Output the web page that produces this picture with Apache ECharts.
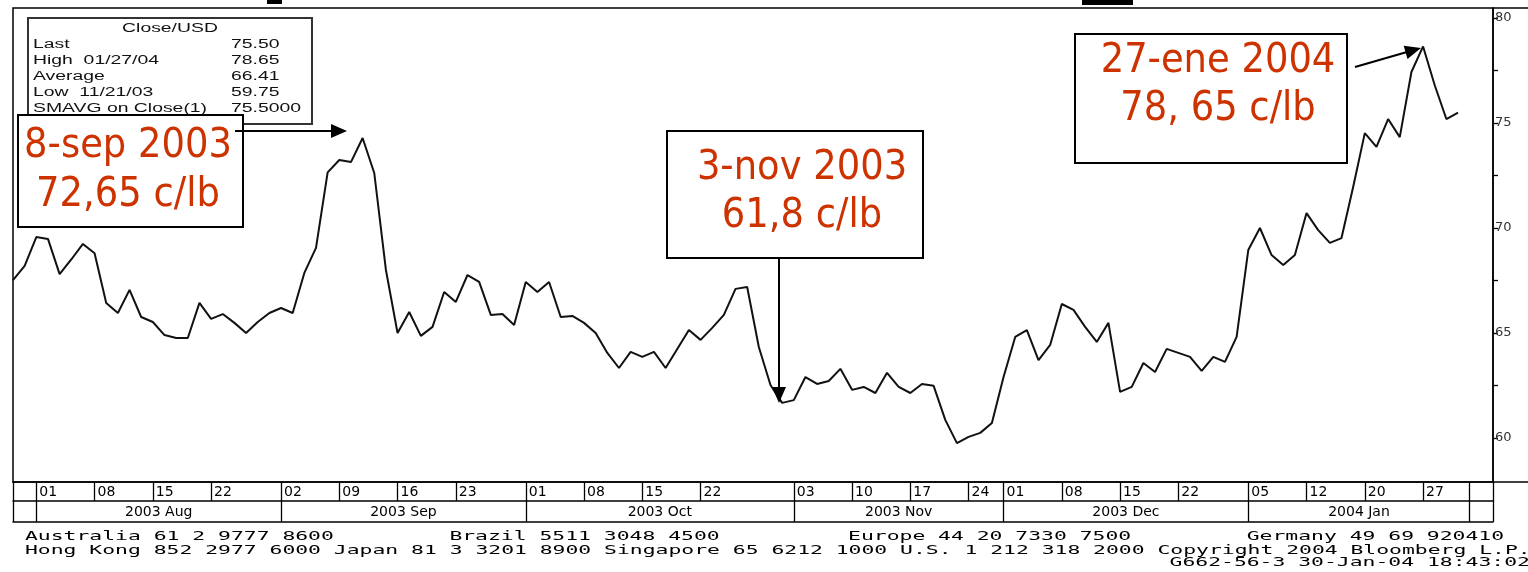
<!DOCTYPE html>
<html><head><meta charset="utf-8">
<script src="https://cdn.jsdelivr.net/npm/echarts@6/dist/echarts.min.js"></script>
<style>html,body{margin:0;padding:0;background:#fff}#c{width:1528px;height:572px}</style>
</head><body><div id="c"></div>
<script>
// Trading days (categories)
const dates = [
 'Jul 30','Jul 31',
 'Aug 01','Aug 04','Aug 05','Aug 06','Aug 07','Aug 08','Aug 11','Aug 12','Aug 13','Aug 14','Aug 15',
 'Aug 18','Aug 19','Aug 20','Aug 21','Aug 22','Aug 25','Aug 26','Aug 27','Aug 28','Aug 29',
 'Sep 02','Sep 03','Sep 04','Sep 05','Sep 08','Sep 09','Sep 10','Sep 11','Sep 12','Sep 15','Sep 16',
 'Sep 17','Sep 18','Sep 19','Sep 22','Sep 23','Sep 24','Sep 25','Sep 26','Sep 29','Sep 30',
 'Oct 01','Oct 02','Oct 03','Oct 06','Oct 07','Oct 08','Oct 09','Oct 10','Oct 13','Oct 14','Oct 15',
 'Oct 16','Oct 17','Oct 20','Oct 21','Oct 22','Oct 23','Oct 24','Oct 27','Oct 28','Oct 29','Oct 30','Oct 31',
 'Nov 03','Nov 04','Nov 05','Nov 06','Nov 07','Nov 10','Nov 11','Nov 12','Nov 13','Nov 14','Nov 17',
 'Nov 18','Nov 19','Nov 20','Nov 21','Nov 24','Nov 25','Nov 26',
 'Dec 01','Dec 02','Dec 03','Dec 04','Dec 05','Dec 08','Dec 09','Dec 10','Dec 11','Dec 12','Dec 15',
 'Dec 16','Dec 17','Dec 18','Dec 19','Dec 22','Dec 23','Dec 29','Dec 30','Dec 31',
 'Jan 02','Jan 05','Jan 06','Jan 07','Jan 08','Jan 09','Jan 12','Jan 13','Jan 14','Jan 15','Jan 16',
 'Jan 20','Jan 21','Jan 22','Jan 23','Jan 26','Jan 27','Jan 28','Jan 29','Jan 30',
 'Feb 02','Feb 03','Feb 04'
];
// Close values (US cents/lb)
const closes = [
 67.52,68.2,
 69.57,69.48,67.8,68.5,69.24,68.8,66.43,65.95,67.05,65.76,65.52,
 64.9,64.76,64.76,66.43,65.67,65.9,65.48,65.0,65.52,65.95,
 66.19,65.95,67.86,69.05,72.65,73.24,73.14,74.29,72.62,68.0,65.0,
 66.0,64.86,65.29,66.95,66.48,67.76,67.43,65.86,65.9,65.38,
 67.43,66.95,67.43,65.76,65.81,65.48,65.0,64.05,63.33,64.1,63.86,
 64.1,63.33,64.24,65.14,64.67,65.24,65.86,67.1,67.19,64.33,62.52,61.67,
 61.8,62.9,62.57,62.71,63.29,62.29,62.43,62.14,63.1,62.43,62.14,
 62.57,62.48,60.86,59.75,60.05,60.24,60.71,
 62.9,64.81,65.14,63.71,64.43,66.38,66.1,65.29,64.57,65.48,62.19,
 62.43,63.57,63.14,64.24,64.05,63.86,63.19,63.86,63.62,
 64.81,68.95,70.0,68.71,68.24,68.71,70.71,69.9,69.29,69.52,71.95,
 74.52,73.86,75.19,74.33,77.43,78.65,76.8,75.19,75.5
];
const weekStarts = ['Aug 01','Aug 08','Aug 15','Aug 22','Sep 02','Sep 09','Sep 16','Sep 23',
 'Oct 01','Oct 08','Oct 15','Oct 22','Nov 03','Nov 10','Nov 17','Nov 24',
 'Dec 01','Dec 08','Dec 15','Dec 22','Jan 05','Jan 12','Jan 20','Jan 27'];
const monthStarts = ['Aug 01','Sep 02','Oct 01','Nov 03','Dec 01','Jan 05','Feb 02'];
const monthLabels = ['2003 Aug','2003 Sep','2003 Oct','2003 Nov','2003 Dec','2004 Jan'];
const yTickValues = [60,62.5,65,67.5,70,72.5,75,77.5,80];
const yLabelValues = [60,65,70,75,80];
const statsTitle = 'Close/USD';
const statsNames = ['Last','High  01/27/04','Average','Low  11/21/03','SMAVG on Close(1)'];
const statsValues = ['75.50','78.65','66.41','59.75','75.5000'];
const notes = [
 ['8-sep 2003','72,65 c/lb'],
 ['3-nov 2003','61,8 c/lb'],
 ['27-ene 2004','78, 65 c/lb']
];
const footer1 = ['Australia 61 2 9777 8600','Brazil 5511 3048 4500','Europe 44 20 7330 7500','Germany 49 69 920410'];
const footer2 = 'Hong Kong 852 2977 6000 Japan 81 3 3201 8900 Singapore 65 6212 1000 U.S. 1 212 318 2000 Copyright 2004 Bloomberg L.P.';
const footer3 = 'G662-56-3 30-Jan-04 18:43:02';

const idx = d => dates.indexOf(d);
const lastIdx = dates.length - 1;
const weekTickSet = new Set([0, lastIdx, idx('Feb 02')].concat(weekStarts.map(idx)));
const weekLabelSet = new Set(weekStarts.map(idx));
const monthTickSet = new Set([0, lastIdx].concat(monthStarts.map(idx)));
const monthLabelMap = {};
for (let m = 0; m < monthLabels.length; m++) {
  const a = idx(monthStarts[m]), b = idx(monthStarts[m + 1]);
  const mid = Math.floor((a + b) / 2);
  monthLabelMap[mid] = { text: monthLabels[m], half: (a + b) % 2 === 1 };
}

const chart = echarts.init(document.getElementById('c'));
const RED = '#cc3300';
const MONO = '"DejaVu Sans Mono", monospace';
const BB = '"Liberation Sans", Arial, sans-serif';
const DV = '"DejaVu Sans", sans-serif';

function boxText(lines, cx, y1, y2) {
  return lines.map((t, i) => ({
    type: 'text', x: cx, y: i === 0 ? y1 : y2, scaleX: 0.9, z: 20,
    style: { text: t, fontFamily: DV, fontSize: 41, fill: RED, align: 'center', verticalAlign: 'middle' }
  }));
}

const graphics = [
  { type: 'line', z: 5, shape: { x1: 1493, y1: 8, x2: 1528, y2: 8 }, style: { stroke: '#000', lineWidth: 1.5 } },
  { type: 'line', z: 5, shape: { x1: 1493, y1: 482, x2: 1528, y2: 482 }, style: { stroke: '#000', lineWidth: 1.5 } },
  { type: 'rect', shape: { x: 267, y: 0, width: 15, height: 4 }, style: { fill: '#000' } },
  { type: 'rect', shape: { x: 1082, y: 0, width: 51, height: 5 }, style: { fill: '#000' } },
  { type: 'rect', z: 10, shape: { x: 28, y: 18, width: 284, height: 106 }, style: { fill: '#fff', stroke: '#333', lineWidth: 2 } },
  { type: 'text', z: 11, x: 170, y: 29, scaleX: 1.55, style: { text: statsTitle, fontFamily: BB, fontSize: 12.5, fill: '#111', align: 'center', verticalAlign: 'middle' } }
];
statsNames.forEach((n, i) => {
  graphics.push({ type: 'text', z: 11, x: 33, y: 45 + i * 15.8, scaleX: 1.55, style: { text: n, fontFamily: BB, fontSize: 12.5, fill: '#111', align: 'left', verticalAlign: 'middle' } });
  graphics.push({ type: 'text', z: 11, x: 231, y: 45 + i * 15.8, scaleX: 1.55, style: { text: statsValues[i], fontFamily: BB, fontSize: 12.5, fill: '#111', align: 'left', verticalAlign: 'middle' } });
});
graphics.push(
  { type: 'rect', z: 15, shape: { x: 18, y: 115, width: 225, height: 112 }, style: { fill: '#fff', stroke: '#000', lineWidth: 2 } },
  { type: 'rect', z: 15, shape: { x: 667, y: 131, width: 256, height: 127 }, style: { fill: '#fff', stroke: '#000', lineWidth: 2 } },
  { type: 'rect', z: 15, shape: { x: 1075, y: 34, width: 272, height: 129 }, style: { fill: '#fff', stroke: '#000', lineWidth: 2 } }
);
graphics.push(...boxText(notes[0], 128, 146, 195));
graphics.push(...boxText(notes[1], 802, 168, 216));
graphics.push(...boxText(notes[2], 1218, 61, 109));
graphics.push(
  { type: 'line', z: 16, shape: { x1: 235, y1: 131, x2: 333, y2: 131 }, style: { stroke: '#000', lineWidth: 2 } },
  { type: 'polygon', z: 16, shape: { points: [[347, 131], [331, 124], [331, 138]] }, style: { fill: '#000' } },
  { type: 'line', z: 16, shape: { x1: 779, y1: 258, x2: 779, y2: 389 }, style: { stroke: '#000', lineWidth: 2 } },
  { type: 'polygon', z: 16, shape: { points: [[779, 403], [772, 387], [786, 387]] }, style: { fill: '#000' } },
  { type: 'line', z: 16, shape: { x1: 1355, y1: 67, x2: 1407, y2: 52 }, style: { stroke: '#000', lineWidth: 2 } },
  { type: 'polygon', z: 16, shape: { points: [[1421, 48], [1407.5, 59.1], [1403.7, 45.7]] }, style: { fill: '#000' } }
);
const cols = [0, 33, 64, 95];
const pitch = 12.86;
footer1.forEach((t, i) => graphics.push({ type: 'text', x: 25 + cols[i] * pitch, y: 537, scaleX: 1.71, style: { text: t, fontFamily: MONO, fontSize: 12.5, fill: '#000', align: 'left', verticalAlign: 'middle' } }));
graphics.push({ type: 'text', x: 25, y: 551, scaleX: 1.71, style: { text: footer2, fontFamily: MONO, fontSize: 12.5, fill: '#000', align: 'left', verticalAlign: 'middle' } });
graphics.push({ type: 'text', x: 25 + 89 * pitch, y: 563, scaleX: 1.71, style: { text: footer3, fontFamily: MONO, fontSize: 12.5, fill: '#000', align: 'left', verticalAlign: 'middle' } });

const BAND_FS = 14;

chart.setOption({
  animation: false,
  backgroundColor: '#fff',
  grid: { left: 13, right: 35, top: 8, bottom: 90, show: true, borderColor: '#000', borderWidth: 1.5, backgroundColor: 'transparent' },
  xAxis: [
    {
      type: 'category', data: dates, boundaryGap: false, position: 'bottom',
      axisLine: { show: true, lineStyle: { color: '#000', width: 1.5 } },
      axisTick: { show: true, inside: false, length: 19, interval: (i) => weekTickSet.has(i), lineStyle: { color: '#000', width: 1.3 } },
      axisLabel: { interval: (i) => weekLabelSet.has(i), formatter: (v) => v.slice(4), align: 'left', padding: [0, 0, 0, 3], margin: 3, fontFamily: DV, fontSize: BAND_FS, color: '#000' },
      splitLine: { show: false }
    },
    {
      type: 'category', data: dates, boundaryGap: false, position: 'bottom', offset: 19,
      axisLine: { show: true, lineStyle: { color: '#000', width: 1.5 } },
      axisTick: { show: true, inside: false, length: 21, interval: (i) => monthTickSet.has(i), lineStyle: { color: '#000', width: 1.3 } },
      axisLabel: {
        interval: (i) => monthLabelMap[i] !== undefined,
        formatter: (v) => { const m = monthLabelMap[idx(v)]; return m ? (m.half ? '{h|' + m.text + '}' : '{n|' + m.text + '}') : ''; },
        align: 'center', margin: 4, fontFamily: DV, fontSize: BAND_FS, color: '#000',
        rich: { h: { padding: [0, 0, 0, 11.67], fontFamily: DV, fontSize: BAND_FS, color: '#000' }, n: { fontFamily: DV, fontSize: BAND_FS, color: '#000' } }
      },
      splitLine: { show: false }
    },
    {
      type: 'category', data: dates, boundaryGap: false, position: 'bottom', offset: 40,
      axisLine: { show: true, lineStyle: { color: '#000', width: 1.5 } },
      axisTick: { show: false }, axisLabel: { show: false }, splitLine: { show: false }
    }
  ],
  yAxis: {
    type: 'value', position: 'right', min: 57.9, max: 80.48, scale: true,
    axisLine: { show: true, lineStyle: { color: '#000', width: 1.5 } },
    axisTick: { show: true, inside: false, length: 5, customValues: yTickValues, lineStyle: { color: '#000', width: 1.3 } },
    axisLabel: { customValues: yLabelValues, margin: 2, fontFamily: DV, fontSize: 13, color: '#333' },
    splitLine: { show: false }
  },
  series: [{
    type: 'line', data: closes, xAxisIndex: 0, symbol: 'none',
    lineStyle: { color: '#111', width: 2 }, z: 3
  }],
  graphic: graphics
});
</script>
</body></html>
